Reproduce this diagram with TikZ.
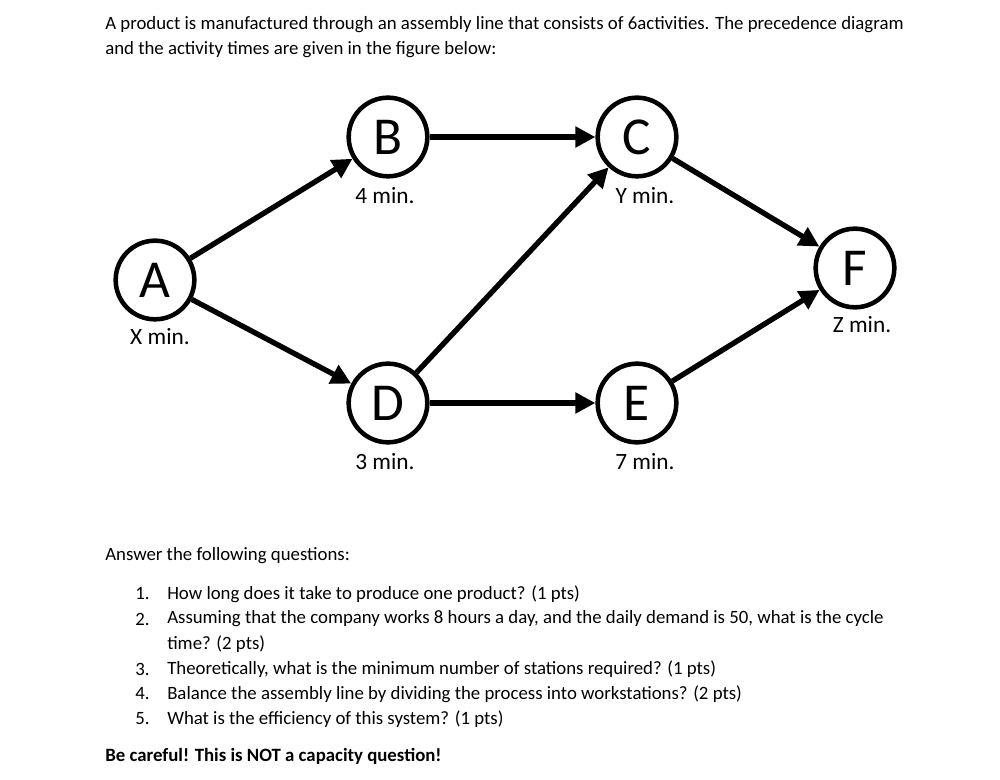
\documentclass[tikz,border=0pt]{standalone}
\usepackage{fontspec}
\setmainfont{Carlito}
\usetikzlibrary{arrows.meta}
\begin{document}
\begin{tikzpicture}[x=0.75pt,y=-0.75pt,
  act/.style={circle,draw,line width=3.4pt,minimum size=59pt,inner sep=0pt,font=\fontsize{40}{40}\selectfont},
  lab/.style={font=\fontsize{17.5}{20}\selectfont},
  txt/.style={anchor=west,inner sep=0pt,font=\fontsize{14.1}{17}\selectfont},
  arr/.style={line width=4pt,-{Triangle[length=15pt,width=15pt]}}]
\useasboundingbox (0,0) rectangle (1000,780);
\node[txt] (t1) at (105,25) {A product is manufactured through an assembly line that consists of 6activities. The precedence diagram};
\node[txt] (t2) at (105,50) {and the activity times are given in the figure below:};
\node[act] (A) at (155,280) {A};
\node[act] (B) at (388,137) {B};
\node[act] (C) at (637,137) {C};
\node[act] (D) at (388,403) {D};
\node[act] (E) at (637,403) {E};
\node[act] (F) at (855,268) {F};
\node[lab] (lA) at (160,337) {X min.};
\node[lab] (lB) at (385,196) {4 min.};
\node[lab] (lC) at (645,196) {Y min.};
\node[lab] (lD) at (385,462) {3 min.};
\node[lab] (lE) at (645,462) {7 min.};
\node[lab] (lF) at (862,325) {Z min.};
\draw[arr] (A) -- (B);
\draw[arr] (A) -- (D);
\draw[arr] (B) -- (C);
\draw[arr] (D) -- (C);
\draw[arr] (D) -- (E);
\draw[arr] (C) -- (F);
\draw[arr] (E) -- (F);
\node[txt] (q0) at (105,556) {Answer the following questions:};
\node[txt] (n1) at (135,594) {1.};
\node[txt] (q1) at (167,594) {How long does it take to produce one product? (1 pts)};
\node[txt] (n2) at (135,619) {2.};
\node[txt] (q2) at (167,619) {Assuming that the company works 8 hours a day, and the daily demand is 50, what is the cycle};
\node[txt] (q2b) at (167,644) {time? (2 pts)};
\node[txt] (n3) at (135,669) {3.};
\node[txt] (q3) at (167,669) {Theoretically, what is the minimum number of stations required? (1 pts)};
\node[txt] (n4) at (135,694) {4.};
\node[txt] (q4) at (167,694) {Balance the assembly line by dividing the process into workstations? (2 pts)};
\node[txt] (n5) at (135,719) {5.};
\node[txt] (q5) at (167,719) {What is the efficiency of this system? (1 pts)};
\node[txt,font=\fontsize{14.1}{17}\selectfont\bfseries] (bc) at (105,756) {Be careful! This is NOT a capacity question!};
\end{tikzpicture}
\end{document}
